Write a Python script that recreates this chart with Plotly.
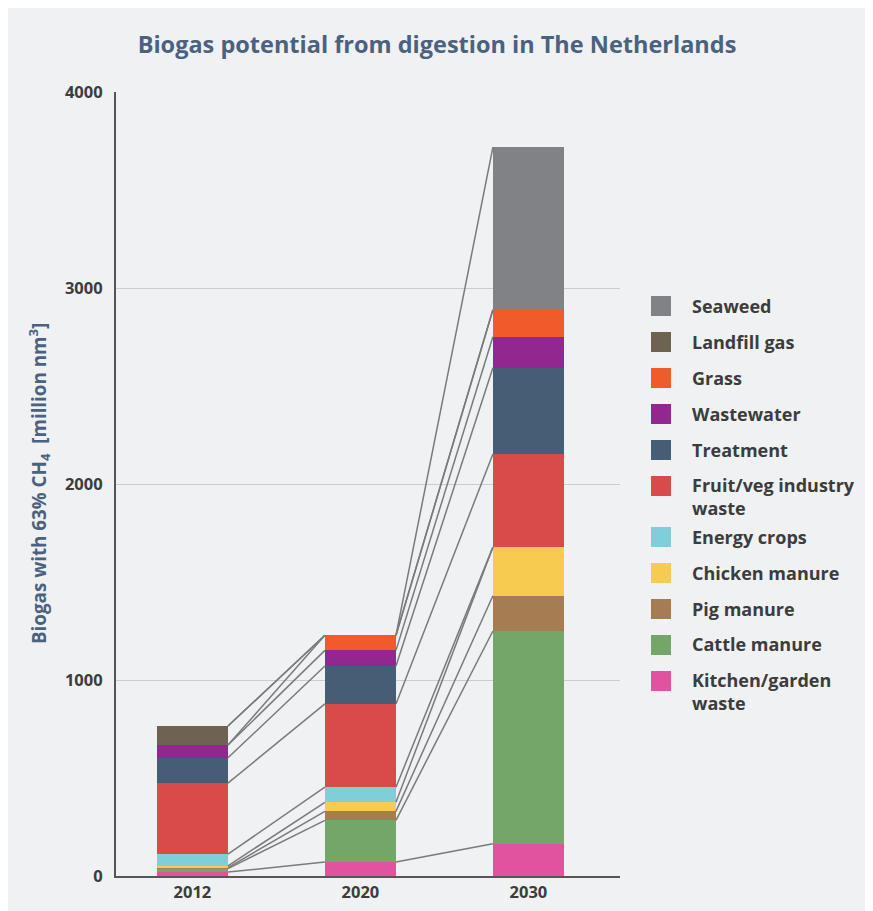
import plotly.graph_objects as go

years = ["2012", "2020", "2030"]

# stacking order bottom -> top
sources = ["Kitchen/garden<br>waste", "Cattle manure", "Pig manure", "Chicken manure",
           "Energy crops", "Fruit/veg industry<br>waste", "Treatment", "Wastewater",
           "Grass", "Landfill gas", "Seaweed"]
colors = ["#e2539e", "#74a569", "#a67c52", "#f7ca50", "#80cfd8", "#d94b4b",
          "#465e75", "#92278f", "#f15a29", "#6e6353", "#808285"]

kitchen = [20, 71, 165]
cattle = [18, 213, 1085]
pig = [5, 46, 180]
chicken = [9, 46, 248]
energy = [60, 77, 0]
fruitveg = [362, 425, 475]
treatment = [129, 193, 440]
wastewater = [65, 80, 158]
grass = [0, 77, 138]
landfill = [97, 0, 0]
seaweed = [0, 0, 830]

series = [kitchen, cattle, pig, chicken, energy, fruitveg, treatment,
          wastewater, grass, landfill, seaweed]

yticks = [0, 1000, 2000, 3000, 4000]

BG = "#f0f1f3"
SLATE = "#4a6180"
DARK = "#3c3c3c"
FONT = "Open Sans"

W, H = 873, 911
OFF = 8  # page margin offset
L, R, T, B = 116 - OFF, 620 - OFF, 92 - OFF, 876 - OFF
bar_w = 0.423
xpos = list(range(len(years)))

fig = go.Figure()

# connector lines between stacked boundaries
cum = []
running = [0] * len(years)
for s in series:
    running = [a + b for a, b in zip(running, s)]
    cum.append(running)
lx, ly = [], []
for c in cum:
    for j in range(len(years) - 1):
        lx += [xpos[j] + bar_w / 2, xpos[j + 1] - bar_w / 2, None]
        ly += [c[j], c[j + 1], None]
fig.add_trace(go.Scatter(x=lx, y=ly, mode="lines",
                         line=dict(color="#7a7a7a", width=1.5),
                         hoverinfo="skip", showlegend=False))

for name, vals, col in zip(sources, series, colors):
    fig.add_trace(go.Bar(x=xpos, y=vals, name=name.replace("<br>", " "),
                         marker=dict(color=col, line=dict(width=0)),
                         width=bar_w, showlegend=False))


def px_x(p):
    return (p - OFF - L) / (R - L)


def px_y(p):
    return (B - (p - OFF)) / (B - T)


# custom legend (top -> bottom)
shapes = []
annotations = []
top = 296
for name, col in zip(reversed(sources), reversed(colors)):
    shapes.append(dict(type="rect", xref="paper", yref="paper",
                       x0=px_x(651), x1=px_x(671), y0=px_y(top), y1=px_y(top + 20),
                       fillcolor=col, line=dict(width=0)))
    annotations.append(dict(xref="paper", yref="paper", x=px_x(690), y=px_y(top - 4.5),
                            xanchor="left", yanchor="top", align="left", showarrow=False,
                            text=name,
                            font=dict(family=FONT, size=18, color=DARK, weight="bold")))
    top += 36 + (15 if "<br>" in name else 0)

annotations.append(dict(xref="paper", yref="paper", x=px_x(39), y=px_y(484),
                        xanchor="center", yanchor="middle", textangle=-90, showarrow=False,
                        text="Biogas with 63% CH<sub>4</sub>  [million nm<sup>3</sup>]",
                        font=dict(family=FONT, size=18.8, color=SLATE, weight="bold")))

fig.update_layout(
    width=W, height=H,
    margin=dict(l=L, r=W - R, t=T, b=H - B, pad=0),
    paper_bgcolor=BG, plot_bgcolor=BG,
    barmode="stack", bargap=0,
    title=dict(text="Biogas potential from digestion in The Netherlands",
               x=(437 - OFF) / W, xref="container", xanchor="center",
               y=1 - (45 - OFF) / H, yref="container", yanchor="middle",
               font=dict(family=FONT, size=23.5, color=SLATE, weight="bold")),
    xaxis=dict(range=[-0.455, 2.545], tickvals=xpos, ticktext=years,
               showgrid=False, zeroline=False, showline=True, linecolor="#555555",
               linewidth=2, ticks="",
               tickfont=dict(family=FONT, size=16.5, color=DARK, weight="bold")),
    yaxis=dict(range=[0, 4000], tickvals=yticks, showgrid=True, gridcolor="#cbcccf",
               gridwidth=1, zeroline=False, showline=True, linecolor="#555555",
               linewidth=2, ticks="", ticklabelstandoff=8,
               tickfont=dict(family=FONT, size=16.5, color=DARK, weight="bold")),
    shapes=shapes, annotations=annotations,
    showlegend=False,
)

fig.write_html("out.html")
